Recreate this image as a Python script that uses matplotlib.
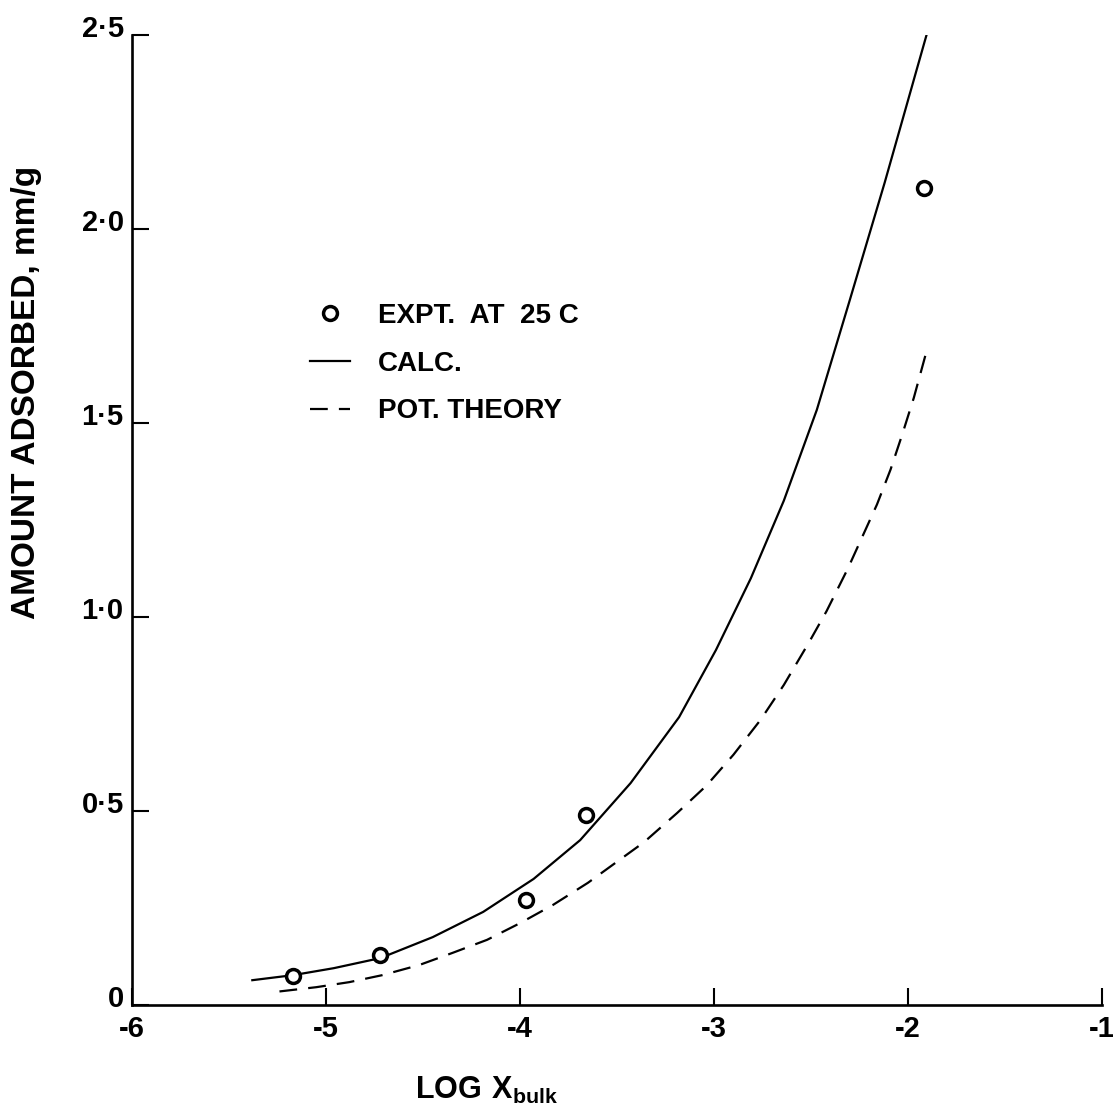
import numpy as np
import matplotlib.pyplot as plt
from matplotlib.transforms import ScaledTranslation

plt.rcParams['font.family'] = ['Liberation Sans', 'DejaVu Sans']
plt.rcParams['font.weight'] = 'bold'
plt.rcParams['mathtext.fontset'] = 'custom'
plt.rcParams['mathtext.rm'] = 'Liberation Sans:bold'
plt.rcParams['mathtext.bf'] = 'Liberation Sans:bold'

# experimental points
expt_x = [-5.17, -4.72, -3.97, -3.66, -1.92]
expt_y = [0.075, 0.130, 0.270, 0.490, 2.106]

# calculated isotherm
calc_x = [-5.38, -5.17, -4.96, -4.72, -4.45, -4.19, -3.93, -3.69, -3.43,
          -3.18, -2.99, -2.81, -2.64, -2.47, -2.30, -2.12, -1.90]
calc_y = [0.064, 0.077, 0.095, 0.121, 0.175, 0.240, 0.325, 0.425, 0.572,
          0.742, 0.915, 1.100, 1.300, 1.534, 1.817, 2.120, 2.508]

# potential theory
pot_x = [-5.24, -5.05, -4.88, -4.71, -4.52, -4.35, -4.17, -4.00, -3.83, -3.65,
         -3.36, -3.19, -3.04, -2.90, -2.76, -2.64, -2.51, -2.42, -2.31, -2.16,
         -2.09, -2.03, -1.97, -1.91]
pot_y = [0.035, 0.046, 0.059, 0.077, 0.103, 0.134, 0.168, 0.211, 0.258, 0.315,
         0.420, 0.495, 0.565, 0.645, 0.735, 0.825, 0.935, 1.015, 1.125, 1.290,
         1.380, 1.470, 1.565, 1.675]

x_ticks = [-6, -5, -4, -3, -2, -1]
x_ticklabels = ['-6', '-5', '-4', '-3', '-2', '-1']
y_ticks = [0, 0.5, 1.0, 1.5, 2.0, 2.5]
y_ticklabels = ['0', '0\u00b75', '1\u00b70', '1\u00b75', '2\u00b70', '2\u00b75']

fig = plt.figure(figsize=(11.19, 11.12), dpi=100)
ax = fig.add_axes([0.118, 0.0962, 0.8668, 0.8723])

ax.plot(expt_x, expt_y, 'o', ms=10, mfc='white', mec='black', mew=2.5,
        label='EXPT.  AT  25 C', zorder=3)
ax.plot(calc_x, calc_y, color='black', lw=1.6, label='CALC.')
ax.plot(pot_x, pot_y, color='black', lw=1.6, dashes=(8, 5), label='POT. THEORY')

ax.set_xlim(-6, -1)
ax.set_ylim(0, 2.5)
ax.set_xticks(x_ticks)
ax.set_xticklabels(x_ticklabels)
ax.set_yticks(y_ticks)
ax.set_yticklabels(y_ticklabels)
ax.spines['top'].set_visible(False)
ax.spines['right'].set_visible(False)
for s in ['left', 'bottom']:
    ax.spines[s].set_linewidth(1.9)
ax.tick_params(direction='in', length=12, width=1.5, labelsize=21)
ax.tick_params(axis='x', pad=7)
ax.tick_params(axis='y', pad=6)

off = ScaledTranslation(0, 6.5 / 72, fig.dpi_scale_trans)
for lab in ax.get_yticklabels():
    lab.set_transform(lab.get_transform() + off)

leg = ax.legend(loc='upper left', bbox_to_anchor=(0.277, 0.7275),
                bbox_transform=fig.transFigure, frameon=False, fontsize=20,
                handlelength=1.45, handletextpad=1.0, labelspacing=0.78,
                borderpad=0, borderaxespad=0)

fig.text(0.024, 0.647, 'AMOUNT ADSORBED, mm/g', rotation=90, ha='center',
         va='center', fontsize=24, fontweight='bold')
fig.text(0.371, 0.012, r'$\mathbf{LOG\ X_{bulk}}$', ha='left', va='baseline',
         fontsize=22)

fig.savefig('out.png', dpi=100)
